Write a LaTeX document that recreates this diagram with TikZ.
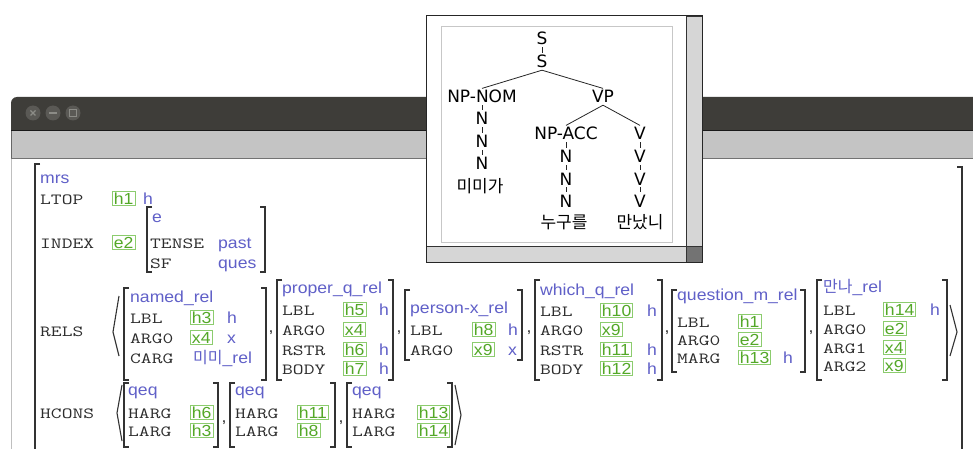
\documentclass[tikz,border=0pt]{standalone}
\usepackage{graphicx}
\usepackage{fontspec}
\setmainfont{Liberation Sans}
\newfontfamily\sansf[FakeStretch=1.1]{Liberation Sans}
\newfontfamily\treef{DejaVu Sans}
\newfontfamily\kof{Noto Sans CJK KR}
\definecolor{typblue}{RGB}{96,96,200}
\definecolor{keygrey}{RGB}{45,45,45}
\definecolor{taggreen}{RGB}{84,168,40}
\definecolor{tagframe}{RGB}{140,204,110}
\definecolor{titlebar}{RGB}{62,61,57}
\definecolor{toolbar}{RGB}{196,196,196}
\definecolor{btn}{RGB}{90,89,85}
\definecolor{btnsym}{RGB}{140,140,135}
\definecolor{scrollc}{RGB}{214,214,214}
\tikzset{
  key/.style={anchor=base west, inner sep=0pt, text=keygrey, font=\ttfamily\fontsize{15.5}{18}\selectfont},
  typ/.style={anchor=base west, inner sep=0pt, text=typblue, font=\sansf\fontsize{16}{18}\selectfont},
  tag/.style={anchor=base west, inner xsep=1.5pt, inner ysep=1.2pt, text height=11.5pt, text depth=0.5pt,
    draw=tagframe, line width=0.9pt, text=taggreen, font=\sansf\fontsize{16}{18}\selectfont},
  comma/.style={anchor=base, inner sep=0pt, text=keygrey, font=\sansf\fontsize{16}{18}\selectfont},
  brk/.style={line width=1.1pt, draw=black!80},
  tr/.style={anchor=base, inner xsep=1pt, inner ysep=2pt, text height=12.4pt, text depth=0pt,
    font=\treef\fontsize{17}{20}\selectfont},
  trk/.style={anchor=center, inner sep=0pt, font=\kof\fontsize{17}{20}\selectfont},
  tedge/.style={line width=0.8pt, draw=black!85},
}
\newcommand\avmlb[3]{\draw[brk] (#1+5,#2) -- (#1,#2) -- (#1,#3) -- (#1+5,#3);}
\newcommand\avmrb[3]{\draw[brk] (#1-5,#2) -- (#1,#2) -- (#1,#3) -- (#1-5,#3);}
\newcommand\kor[1]{{\kof\fontsize{16}{18}\selectfont #1}}
\newcommand\kt[1]{\scalebox{1.35}[1]{#1}}
\begin{document}
\begin{tikzpicture}[x=1pt,y=-1pt]
\useasboundingbox (0,0) rectangle (973,449);
\fill[white] (0,0) rectangle (973,449);
% ---------- main window chrome ----------
\fill[titlebar] (11,131) [rounded corners=6pt] -- (11,97) [sharp corners] -- (973,97) -- (973,131) -- cycle;
\fill[toolbar] (11,131) rectangle (973,158);
\draw[black!90, line width=1pt] (11,131) -- (973,131);
\draw[black!55, line width=1pt] (11,158.5) -- (973,158.5);
\draw[black!60, line width=0.8pt] (11.5,131) -- (11.5,158);
\draw[black!25, line width=0.8pt] (11.5,159) -- (11.5,449);
\fill[btn] (33,113) circle (7.5);
\fill[btn] (53,113) circle (7.5);
\fill[btn] (73,113) circle (7.5);
\draw[btnsym, line width=1.2pt] (30.5,110.5) -- (35.5,115.5) (30.5,115.5) -- (35.5,110.5);
\draw[btnsym, line width=1.4pt] (49,113) -- (57,113);
\draw[btnsym, line width=1.1pt] (69.5,109.5) rectangle (76.5,116.5);
% ---------- tree popup ----------
\fill[white] (426,16) rectangle (686,246);
\draw[black!22, line width=0.8pt] (441,26) rectangle (672,242);
\filldraw[fill=scrollc, draw=black!80, line width=0.9pt] (686,16) rectangle (702,246);
\filldraw[fill=scrollc, draw=black!80, line width=0.9pt] (426,246) rectangle (686,262);
\filldraw[fill=black!55, draw=black!80, line width=0.9pt] (686,246) rectangle (702,262);
\draw[black!85, line width=1pt] (426,16) rectangle (702,262);
% tree
\node[tr] (s1) at (542,45) {S};
\node[tr] (s2) at (542,68) {S};
\node[tr] (npnom) at (482,103) {NP-NOM};
\node[tr] (vp) at (603,103) {VP};
\node[tr] (na1) at (482,125) {N};
\node[tr] (na2) at (482,148) {N};
\node[tr] (na3) at (482,170) {N};
\node[trk] (wa) at (480,186) {미미가};
\node[tr] (npacc) at (566,140) {NP-ACC};
\node[tr] (v1) at (640,140) {V};
\node[tr] (nb1) at (566,163) {N};
\node[tr] (nb2) at (566,185) {N};
\node[tr] (nb3) at (566,207) {N};
\node[trk] (wb) at (564,222) {누구를};
\node[tr] (v2) at (640,163) {V};
\node[tr] (v3) at (640,185) {V};
\node[tr] (v4) at (640,207) {V};
\node[trk] (wc) at (640,222) {만났니};
\draw[tedge] (s1.south) -- (s2.north);
\draw[tedge] (s2.south) -- (npnom.north);
\draw[tedge] (s2.south) -- (vp.north);
\draw[tedge] (npnom.south) -- (na1.north);
\draw[tedge] (na1.south) -- (na2.north);
\draw[tedge] (na2.south) -- (na3.north);
\draw[tedge] (vp.south) -- (npacc.north);
\draw[tedge] (vp.south) -- (v1.north);
\draw[tedge] (npacc.south) -- (nb1.north);
\draw[tedge] (nb1.south) -- (nb2.north);
\draw[tedge] (nb2.south) -- (nb3.north);
\draw[tedge] (v1.south) -- (v2.north);
\draw[tedge] (v2.south) -- (v3.north);
\draw[tedge] (v3.south) -- (v4.north);
% ---------- MRS AVM ----------
\draw[brk] (40,164) -- (35,164) -- (35,452);
\draw[brk] (957,167) -- (962,167) -- (962,452);
\node[typ] (mrs) at (40,183) {mrs};
\node[key] (ltop) at (40,204) {\kt{LTOP}};
\node[tag] (ltopv) at (112,204) {h1};
\node[typ] (ltopt) at (143,204) {h};
\node[key] (index) at (40,248) {\kt{INDEX}};
\node[tag] (indexv) at (112,248) {e2};
\avmlb{147}{207}{272}
\avmrb{265}{207}{272}
\node[typ] (idxe) at (152,222) {e};
\node[key] (tense) at (150,248) {\kt{TENSE}};
\node[typ] (tensev) at (218,248) {past};
\node[key] (sf) at (150,268) {\kt{SF}};
\node[typ] (sfv) at (218,268) {ques};
% RELS
\node[key] (rels) at (40,336) {\kt{RELS}};
\draw[brk] (119,296) -- (113,332) -- (119,356);
% named_rel
\avmlb{124}{288}{380}
\avmrb{266}{288}{380}
\node[typ] (r1h) at (130,302) {named\_rel};
\node[key] (r1a) at (130,323) {\kt{LBL}};
\node[tag] (r1av) at (190,323) {h3};
\node[typ] (r1at) at (227,323) {h};
\node[key] (r1b) at (130,343) {\kt{ARG0}};
\node[tag] (r1bv) at (190,343) {x4};
\node[typ] (r1bt) at (227,343) {x};
\node[key] (r1c) at (130,363) {\kt{CARG}};
\node[typ] (r1cv) at (193,363) {\kor{미미}\_rel};
\node[comma] (cm1) at (271,332) {,};
% proper_q_rel
\avmlb{277}{280}{380}
\avmrb{393}{280}{380}
\node[typ] (r2h) at (282,293) {proper\_q\_rel};
\node[key] (r2a) at (282,315) {\kt{LBL}};
\node[tag] (r2av) at (343,315) {h5};
\node[typ] (r2at) at (379,315) {h};
\node[key] (r2b) at (282,335) {\kt{ARG0}};
\node[tag] (r2bv) at (343,335) {x4};
\node[key] (r2c) at (282,355) {\kt{RSTR}};
\node[tag] (r2cv) at (343,355) {h6};
\node[typ] (r2ct) at (379,355) {h};
\node[key] (r2d) at (282,374) {\kt{BODY}};
\node[tag] (r2dv) at (343,374) {h7};
\node[typ] (r2dt) at (379,374) {h};
\node[comma] (cm2) at (399,332) {,};
% person-x_rel
\avmlb{405}{290}{360}
\avmrb{522}{290}{360}
\node[typ] (r3h) at (410,313) {person-x\_rel};
\node[key] (r3a) at (410,335) {\kt{LBL}};
\node[tag] (r3av) at (472,335) {h8};
\node[typ] (r3at) at (508,335) {h};
\node[key] (r3b) at (410,355) {\kt{ARG0}};
\node[tag] (r3bv) at (472,355) {x9};
\node[typ] (r3bt) at (508,355) {x};
\node[comma] (cm3) at (529,332) {,};
% which_q_rel
\avmlb{535}{280}{380}
\avmrb{662}{280}{380}
\node[typ] (r4h) at (540,295) {which\_q\_rel};
\node[key] (r4a) at (540,316) {\kt{LBL}};
\node[tag] (r4av) at (600,316) {h10};
\node[typ] (r4at) at (647,316) {h};
\node[key] (r4b) at (540,335) {\kt{ARG0}};
\node[tag] (r4bv) at (600,335) {x9};
\node[key] (r4c) at (540,355) {\kt{RSTR}};
\node[tag] (r4cv) at (600,355) {h11};
\node[typ] (r4ct) at (647,355) {h};
\node[key] (r4d) at (540,374) {\kt{BODY}};
\node[tag] (r4dv) at (600,374) {h12};
\node[typ] (r4dt) at (647,374) {h};
\node[comma] (cm4) at (667,332) {,};
% question_m_rel
\avmlb{672}{290}{372}
\avmrb{805}{290}{372}
\node[typ] (r5h) at (677,300) {question\_m\_rel};
\node[key] (r5a) at (677,327) {\kt{LBL}};
\node[tag] (r5av) at (738,327) {h1};
\node[key] (r5b) at (677,345) {\kt{ARG0}};
\node[tag] (r5bv) at (738,345) {e2};
\node[key] (r5c) at (677,363) {\kt{MARG}};
\node[tag] (r5cv) at (738,363) {h13};
\node[typ] (r5ct) at (783,363) {h};
\node[comma] (cm5) at (811,332) {,};
% manna_rel
\avmlb{817}{280}{380}
\avmrb{947}{280}{380}
\node[typ] (r6h) at (823,292) {\kor{만나}\_rel};
\node[key] (r6a) at (823,315) {\kt{LBL}};
\node[tag] (r6av) at (883,315) {h14};
\node[typ] (r6at) at (930,315) {h};
\node[key] (r6b) at (823,334) {\kt{ARG0}};
\node[tag] (r6bv) at (883,334) {e2};
\node[key] (r6c) at (823,353) {\kt{ARG1}};
\node[tag] (r6cv) at (883,353) {x4};
\node[key] (r6d) at (823,371) {\kt{ARG2}};
\node[tag] (r6dv) at (883,371) {x9};
\draw[brk] (950,305) -- (957,332) -- (950,356);
% HCONS
\node[key] (hcons) at (40,418) {\kt{HCONS}};
\draw[brk] (122,385) -- (117,413) -- (122,441);
\avmlb{124}{383}{447}
\avmrb{218}{383}{447}
\node[typ] (q1h) at (128,395) {qeq};
\node[key] (q1a) at (128,418) {\kt{HARG}};
\node[tag] (q1av) at (190,418) {h6};
\node[key] (q1b) at (128,436) {\kt{LARG}};
\node[tag] (q1bv) at (190,436) {h3};
\node[comma] (cm6) at (224,422) {,};
\avmlb{230}{383}{447}
\avmrb{335}{383}{447}
\node[typ] (q2h) at (235,395) {qeq};
\node[key] (q2a) at (235,418) {\kt{HARG}};
\node[tag] (q2av) at (297,418) {h11};
\node[key] (q2b) at (235,436) {\kt{LARG}};
\node[tag] (q2bv) at (297,436) {h8};
\node[comma] (cm7) at (341,422) {,};
\avmlb{347}{383}{447}
\avmrb{452}{383}{447}
\node[typ] (q3h) at (352,395) {qeq};
\node[key] (q3a) at (352,418) {\kt{HARG}};
\node[tag] (q3av) at (417,418) {h13};
\node[key] (q3b) at (352,436) {\kt{LARG}};
\node[tag] (q3bv) at (417,436) {h14};
\draw[brk] (455,385) -- (461,415) -- (455,445);
\end{tikzpicture}
\end{document}
